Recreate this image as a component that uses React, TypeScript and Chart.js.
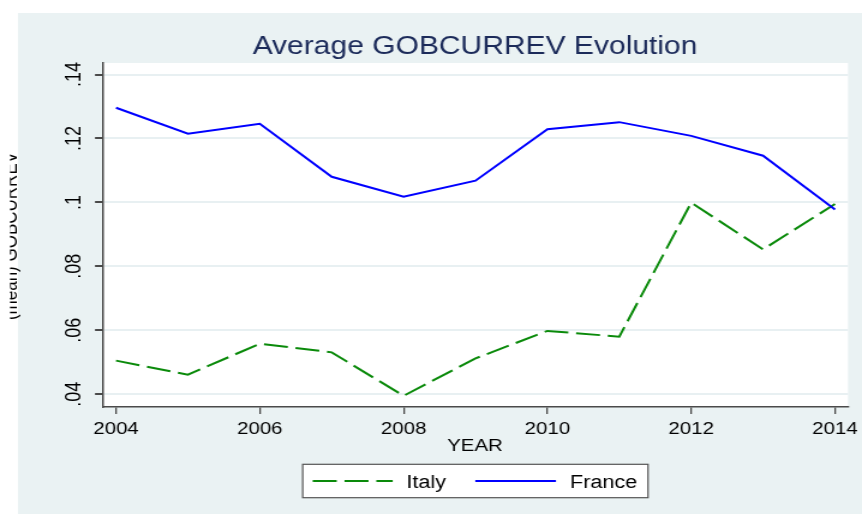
import React, { useEffect, useRef } from "react";
import { Chart, registerables } from "chart.js";

Chart.register(...registerables);

// ---- data ----
const years = [2004, 2005, 2006, 2007, 2008, 2009, 2010, 2011, 2012, 2013, 2014];
const italy = [0.0505, 0.0461, 0.0558, 0.0531, 0.0395, 0.0512, 0.0598, 0.058, 0.0999, 0.0853, 0.0995];
const france = [0.1296, 0.1215, 0.1246, 0.108, 0.1018, 0.1068, 0.1229, 0.1251, 0.1208, 0.1146, 0.0978];
const seriesNames = ["Italy", "France"];
const yTickValues = [0.04, 0.06, 0.08, 0.1, 0.12, 0.14];
const yTickLabels = [".04", ".06", ".08", ".1", ".12", ".14"];
const xTickValues = [2004, 2006, 2008, 2010, 2012, 2014];
const xTickLabels = ["2004", "2006", "2008", "2010", "2012", "2014"];
const titleText = "Average GOBCURREV Evolution";
const xTitle = "YEAR";
const yTitle = "(mean) GOBCURREV";

// ---- layout / style ----
const FULL_W = 862;
const CW = 718;
const CH = 514;
const S = FULL_W / CW; // horizontal stretch
const BG = "rgb(234,242,243)";
const GRID = "rgb(232,240,242)";
const AXIS = "#4a4a4a";
const FONT = "'Liberation Sans', Arial, sans-serif";
const GREEN = "#0a8a0a";
const BLUE = "#0000ff";
const DASH = [20, 6.5];

const fx = (x: number) => x / S;

const decoPlugin = {
  id: "deco",
  beforeDraw(chart: any) {
    const { ctx, width, height, chartArea } = chart;
    ctx.save();
    ctx.fillStyle = "#ffffff";
    ctx.fillRect(0, 0, width, height);
    ctx.fillStyle = BG;
    ctx.fillRect(fx(18), 13, width, height);
    ctx.fillStyle = "#ffffff";
    ctx.fillRect(chartArea.left, chartArea.top, chartArea.right - chartArea.left, chartArea.bottom - chartArea.top);
    ctx.restore();
  },
  afterDraw(chart: any) {
    const { ctx, width, height } = chart;
    const xs = chart.scales.x;
    const ys = chart.scales.y;
    ctx.save();
    // title
    ctx.fillStyle = "#1c2b5a";
    ctx.font = `25px ${FONT}`;
    ctx.textAlign = "center";
    ctx.textBaseline = "alphabetic";
    ctx.fillText(titleText, fx(475), 54);

    // x tick labels
    ctx.fillStyle = "#000";
    ctx.font = `17px ${FONT}`;
    xTickValues.forEach((v, i) => {
      ctx.fillText(xTickLabels[i], xs.getPixelForValue(v), 434);
    });
    // x title
    ctx.font = `17px ${FONT}`;
    ctx.fillText(xTitle, fx(475), 451);

    // y tick labels (rotated)
    ctx.font = `18px ${FONT}`;
    yTickValues.forEach((v, i) => {
      const py = ys.getPixelForValue(v);
      ctx.save();
      ctx.translate(fx(80), py);
      ctx.rotate(-Math.PI / 2);
      ctx.textAlign = "center";
      ctx.textBaseline = "alphabetic";
      ctx.fillText(yTickLabels[i], 0, 0);
      ctx.restore();
    });

    // y title (clipped like the reference)
    ctx.save();
    ctx.beginPath();
    ctx.rect(fx(10), 0, width, height);
    ctx.clip();
    ctx.translate(fx(16.5), 236);
    ctx.rotate(-Math.PI / 2);
    ctx.font = `17px ${FONT}`;
    ctx.textAlign = "center";
    ctx.fillStyle = "#000";
    ctx.fillText(yTitle, 0, 0);
    ctx.restore();

    // legend
    const lx1 = fx(302.7), lx2 = fx(648), ly1 = 464.3, ly2 = 497.7;
    ctx.fillStyle = "#ffffff";
    ctx.fillRect(lx1, ly1, lx2 - lx1, ly2 - ly1);
    ctx.strokeStyle = "#555";
    ctx.lineWidth = 1.2;
    ctx.strokeRect(lx1, ly1, lx2 - lx1, ly2 - ly1);
    const items = [
      { s: fx(312.7), e: fx(392.7), t: fx(406.5) },
      { s: fx(475.3), e: fx(556), t: fx(570) },
    ];
    chart.data.datasets.forEach((ds: any, i: number) => {
      const it = items[i];
      ctx.save();
      ctx.strokeStyle = ds.borderColor;
      ctx.lineWidth = 2;
      ctx.setLineDash(ds.borderDash || []);
      ctx.beginPath();
      ctx.moveTo(it.s, 481);
      ctx.lineTo(it.e, 481);
      ctx.stroke();
      ctx.restore();
      ctx.fillStyle = "#000";
      ctx.font = `18px ${FONT}`;
      ctx.textAlign = "left";
      ctx.fillText(ds.label, it.t, 487.7);
    });
    ctx.restore();
  },
};

export default function App() {
  const ref = useRef<HTMLCanvasElement | null>(null);
  useEffect(() => {
    document.body.style.margin = "0";
    const canvas = ref.current!;
    const chart = new Chart(canvas, {
      type: "line",
      data: {
        datasets: [
          {
            label: seriesNames[0],
            data: years.map((y, i) => ({ x: y, y: italy[i] })),
            borderColor: GREEN,
            borderWidth: 2,
            borderDash: DASH,
            pointRadius: 0,
            tension: 0,
            fill: false,
            order: 1,
          },
          {
            label: seriesNames[1],
            data: years.map((y, i) => ({ x: y, y: france[i] })),
            borderColor: BLUE,
            borderWidth: 2,
            pointRadius: 0,
            tension: 0,
            fill: false,
            order: 0,
          },
        ],
      },
      options: {
        animation: false,
        responsive: false,
        events: [],
        layout: {
          padding: { left: fx(103), right: CW - fx(848), top: 63, bottom: CH - 407 },
        },
        plugins: {
          legend: { display: false },
          tooltip: { enabled: false },
          title: { display: false },
        },
        scales: {
          x: {
            type: "linear",
            min: 2003.819,
            max: 2014.181,
            afterBuildTicks: (scale: any) => {
              scale.ticks = xTickValues.map((v) => ({ value: v }));
            },
            afterFit: (scale: any) => {
              scale.height = 0;
            },
            ticks: { display: false },
            grid: {
              drawOnChartArea: false,
              drawTicks: true,
              tickLength: 7,
              tickColor: AXIS,
              lineWidth: 1.3,
            },
            border: { display: true, color: AXIS, width: 1.6 },
          },
          y: {
            type: "linear",
            min: 0.036,
            max: 0.1436,
            afterBuildTicks: (scale: any) => {
              scale.ticks = yTickValues.map((v) => ({ value: v }));
            },
            afterFit: (scale: any) => {
              scale.width = 0;
            },
            ticks: { display: false },
            grid: {
              drawOnChartArea: true,
              color: GRID,
              lineWidth: 2,
              drawTicks: true,
              tickLength: fx(8),
              tickColor: AXIS,
            },
            border: { display: true, color: AXIS, width: 1.5 },
          },
        },
      },
      plugins: [decoPlugin],
    });
    return () => chart.destroy();
  }, []);

  return (
    <div
      style={{
        position: "absolute",
        left: 0,
        top: 0,
        width: CW + "px",
        height: CH + "px",
        transform: `scaleX(${S})`,
        transformOrigin: "0 0",
      }}
    >
      <canvas ref={ref} width={CW} height={CH} style={{ display: "block" }} />
    </div>
  );
}
